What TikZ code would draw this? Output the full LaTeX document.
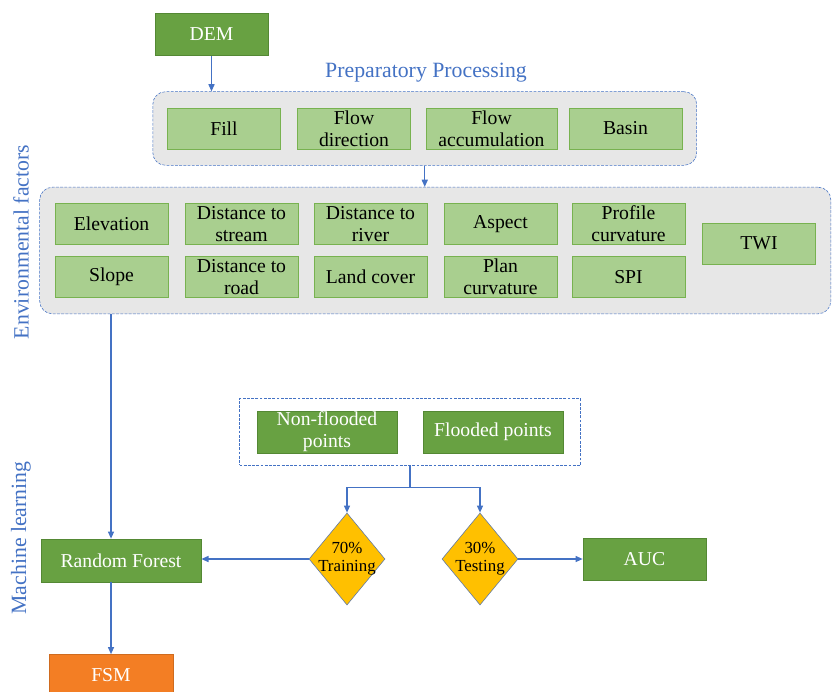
\documentclass[tikz,border=0pt]{standalone}
\usepackage{fontspec}
\setmainfont{Liberation Serif}
\usetikzlibrary{shapes.geometric, arrows.meta, positioning, fit, backgrounds}
\definecolor{dataGreen}{RGB}{104,161,66}
\definecolor{dataEdge}{RGB}{84,136,52}
\definecolor{factorGreen}{RGB}{169,207,143}
\definecolor{factorEdge}{RGB}{120,178,80}
\definecolor{groupGray}{RGB}{231,231,231}
\definecolor{lineBlue}{RGB}{68,114,196}
\definecolor{splitYellow}{RGB}{255,192,0}
\definecolor{mapOrange}{RGB}{243,126,36}

\begin{document}
\begin{tikzpicture}[
    x=0.025cm, y=-0.025cm,
    factor/.style={rectangle, draw=factorEdge, fill=factorGreen, minimum width=2.825cm, minimum height=1.025cm, inner sep=0pt, align=center, font=\fontsize{14}{15.5}\selectfont},
    databox/.style={rectangle, draw=dataEdge, fill=dataGreen, text=white, minimum height=1.05cm, inner sep=0pt, align=center, font=\fontsize{14}{15.5}\selectfont},
    split/.style={diamond, draw=lineBlue!60!gray, fill=splitYellow, minimum width=1.9cm, minimum height=2.3cm, inner sep=-5pt, align=center, font=\fontsize{12}{13}\selectfont},
    group/.style={rectangle, rounded corners=9pt, draw=lineBlue, dash pattern=on 2pt off 1pt, fill=groupGray, inner xsep=0.36cm, inner ysep=0.4cm},
    heading/.style={text=lineBlue, font=\fontsize{15.5}{17}\selectfont, inner sep=0pt},
    arrow/.style={-{Triangle[length=1.8mm,width=1.5mm]}, line width=1pt, draw=lineBlue}
]
\useasboundingbox (0,0) rectangle (832,691);

% input and preprocessing
\node[databox, minimum width=2.825cm] (dem) at (211.5,34.5) {DEM};
\node[heading] (preptitle) at (426,73) {Preparatory Processing};
\node[factor] (fill) at (224,128.5) {Fill};
\node[factor] (flowdir) at (354,128.5) {Flow\\direction};
\node[factor, minimum width=3.275cm] (flowacc) at (491.5,128.5) {Flow\\accumulation};
\node[factor] (basin) at (625.5,128.5) {Basin};

% environmental factors
\node[factor] (elev) at (111.5,224) {Elevation};
\node[factor] (dstream) at (241.5,224) {Distance to\\stream};
\node[factor] (driver) at (370.5,224) {Distance to\\river};
\node[factor] (aspect) at (500.5,224) {Aspect};
\node[factor] (profcurv) at (628.5,224) {Profile\\curvature};
\node[factor] (slope) at (111.5,277) {Slope};
\node[factor] (droad) at (241.5,277) {Distance to\\road};
\node[factor] (landcover) at (370.5,277) {Land cover};
\node[factor] (plancurv) at (500.5,277) {Plan\\curvature};
\node[factor] (spi) at (628.5,277) {SPI};
\node[factor] (twi) at (759,243.5) {TWI};

\node[heading, rotate=90] (envtitle) at (21,242) {Environmental factors};
\node[heading, rotate=90] (mltitle) at (21,538) {Machine learning};

% machine learning
\node[databox, minimum width=3.5cm] (nonflood) at (327,432) {Non-flooded\\points};
\node[databox, minimum width=3.5cm] (flood) at (493,432) {Flooded points};
\node[split] (train) at (347,559) {70\%\\Training};
\node[split] (test) at (480,559) {30\%\\Testing};
\node[databox, minimum width=4cm, minimum height=1.075cm] (rf) at (121,560.5) {Random Forest};
\node[databox, minimum width=3.075cm] (auc) at (644.5,559) {AUC};
\node[databox, minimum width=3.1cm, fill=mapOrange, draw=mapOrange!85!black] (fsm) at (111,675.5) {FSM};

\begin{scope}[on background layer]
\node[group, fit=(fill)(basin)] (prep) {};
\node[group, fit=(elev)(spi)(twi), inner xsep=0.375cm] (env) {};
\node[rectangle, draw=lineBlue, dash pattern=on 2pt off 1pt, inner xsep=0.43cm, inner ysep=0.3cm, fit=(nonflood)(flood)] (points) {};
\end{scope}

\draw[arrow] (dem.south) -- (dem.south |- prep.north);
\draw[arrow] (prep.south) -- (prep.south |- env.north);
\draw[arrow] (env.south -| fsm.north) -- (rf.north -| fsm.north);
\draw[arrow] (rf.south -| fsm.north) -- (fsm.north);
\draw[line width=1pt, draw=lineBlue] (points.south) -- ++(0,22) coordinate (fork);
\draw[arrow] (fork) -| (train.north);
\draw[arrow] (fork) -| (test.north);
\draw[arrow] (train.west) -- (train.west -| rf.east);
\draw[arrow] (test.east) -- (test.east -| auc.west);

\end{tikzpicture}
\end{document}
